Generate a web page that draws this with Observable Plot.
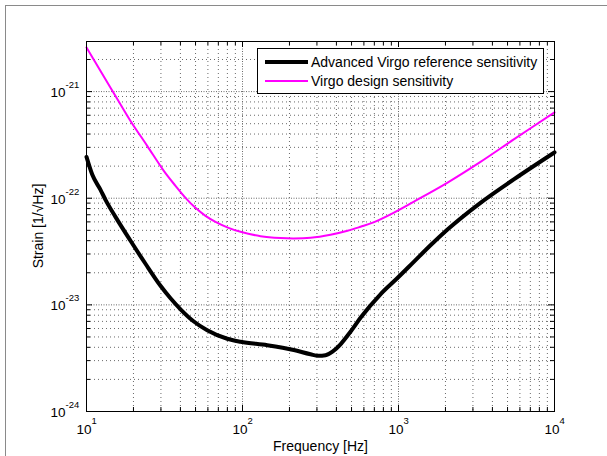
<!DOCTYPE html>
<html>
<head>
<meta charset="utf-8">
<script src="https://cdn.jsdelivr.net/npm/d3@7"></script>
<script src="https://cdn.jsdelivr.net/npm/@observablehq/plot@0.6"></script>
<style>
  html, body { margin: 0; padding: 0; background: #fff; }
  #wrap { position: relative; width: 607px; height: 456px; overflow: hidden; background: #fff; }
  #outer { position: absolute; left: 5px; top: 5px; width: 800px; height: 800px; border: 1px solid #8a8a8a; box-sizing: border-box; }
  #chart { position: absolute; left: 0; top: 0; }
  #ylabel { position: absolute; left: 38px; top: 226px; transform: translate(-50%, -50%) rotate(-90deg);
            white-space: nowrap; font-family: "Liberation Sans", Arial, sans-serif; font-size: 14px; color: #000; line-height: 1; }
  #legend { position: absolute; left: 257px; top: 48px; width: 287px; height: 46px; box-sizing: border-box;
            border: 1px solid #000; background: #fff; font-family: "Liberation Sans", Arial, sans-serif; font-size: 14px; color: #000; }
  .row { position: absolute; left: 7px; height: 18px; display: flex; align-items: center; white-space: nowrap; }
  .sw { width: 43px; margin-right: 3px; }
</style>
</head>
<body>
<div id="wrap">
  <div id="outer"></div>
  <div id="chart"></div>
  <div id="ylabel"></div>
  <div id="legend"></div>
</div>
<script>
// ---- data ----
const seriesNames = ["Advanced Virgo reference sensitivity", "Virgo design sensitivity"];
const seriesColors = ["#000000", "#ff00ff"];

const advFreq   = [10, 10.9, 12.3, 13.24, 15.34, 19.15, 23.88, 29.81, 34.55, 40.06, 48.52, 59.38, 79.8, 97.1, 144, 213.3, 272.9, 307.1, 340.5, 377.6, 424.9, 492.4, 570.8, 766.5, 981, 1253, 1604, 2052, 3354, 5483, 10000];
const advStrain = [2.44e-22, 1.657e-22, 1.199e-22, 9.66e-23, 6.69e-23, 3.99e-23, 2.43e-23, 1.51e-23, 1.153e-23, 9.09e-24, 7.02e-24, 5.78e-24, 4.81e-24, 4.51e-24, 4.18e-24, 3.77e-24, 3.44e-24, 3.33e-24, 3.37e-24, 3.64e-24, 4.27e-24, 5.60e-24, 7.57e-24, 1.257e-23, 1.775e-23, 2.53e-23, 3.62e-23, 5.06e-23, 9.06e-23, 1.503e-22, 2.69e-22];

const virFreq   = [10, 12.3, 15.34, 19.15, 24.49, 31.3, 37.2, 43.11, 49.95, 57.9, 67.12, 81.34, 97.1, 130.5, 175.2, 212.4, 272.9, 366.5, 471.1, 570.8, 691.4, 928.9, 1248, 2052, 3354, 5483, 10000];
const virStrain = [2.59e-21, 1.56e-21, 9.11e-22, 5.31e-22, 3.10e-22, 1.806e-22, 1.307e-22, 1.009e-22, 8.13e-23, 6.84e-23, 6.01e-23, 5.28e-23, 4.84e-23, 4.41e-23, 4.23e-23, 4.19e-23, 4.25e-23, 4.54e-23, 4.95e-23, 5.40e-23, 5.94e-23, 7.30e-23, 9.25e-23, 1.394e-22, 2.19e-22, 3.56e-22, 6.38e-22];

// ---- axis ticks ----
const xMajor = [10, 100, 1000, 10000];
const xMajorExp = ["1", "2", "3", "4"];
const xMinor = [20, 30, 40, 50, 60, 70, 80, 90, 200, 300, 400, 500, 600, 700, 800, 900, 2000, 3000, 4000, 5000, 6000, 7000, 8000, 9000];
const yMajor = [1e-24, 1e-23, 1e-22, 1e-21];
const yMajorExp = ["-24", "-23", "-22", "-21"];
const yMinor = [2e-24, 3e-24, 4e-24, 5e-24, 6e-24, 7e-24, 8e-24, 9e-24,
                2e-23, 3e-23, 4e-23, 5e-23, 6e-23, 7e-23, 8e-23, 9e-23,
                2e-22, 3e-22, 4e-22, 5e-22, 6e-22, 7e-22, 8e-22, 9e-22,
                2e-21];
const xLabel = "Frequency [Hz]";
const yLabel = "Strain [1/\u221AHz]";

const adv = advFreq.map((f, i) => ({f, s: advStrain[i]}));
const vir = virFreq.map((f, i) => ({f, s: virStrain[i]}));

const W = 607, H = 456, mL = 86, mR = 53, mT = 41, mB = 45;
const PH = H - mT - mB, PW = W - mL - mR;
const font = "Liberation Sans, Arial, sans-serif";
const gridColor = "#6a6a6a";

const chart = Plot.plot({
  width: W, height: H,
  marginLeft: mL, marginRight: mR, marginTop: mT, marginBottom: mB,
  style: {fontFamily: font, background: "transparent", overflow: "visible"},
  x: {type: "log", domain: [10, 10000], axis: null},
  y: {type: "log", domain: [1e-24, 2.95e-21], axis: null},
  marks: [
    // grid
    Plot.ruleX(xMinor, {x: d => d, stroke: gridColor, strokeDasharray: "1,3", strokeWidth: 1}),
    Plot.ruleY(yMinor, {y: d => d, stroke: gridColor, strokeDasharray: "1,3", strokeWidth: 1}),
    Plot.ruleX(xMajor, {x: d => d, stroke: gridColor, strokeDasharray: "1,1.5", strokeWidth: 1}),
    Plot.ruleY(yMajor, {y: d => d, stroke: gridColor, strokeDasharray: "1,1.5", strokeWidth: 1}),
    // ticks (inward, all four sides)
    Plot.tickX(xMajor, {x: d => d, insetTop: PH - 6, stroke: "#000"}),
    Plot.tickX(xMajor, {x: d => d, insetBottom: PH - 6, stroke: "#000"}),
    Plot.tickX(xMinor, {x: d => d, insetTop: PH - 4, stroke: "#000"}),
    Plot.tickX(xMinor, {x: d => d, insetBottom: PH - 4, stroke: "#000"}),
    Plot.tickY(yMajor, {y: d => d, insetRight: PW - 6, stroke: "#000"}),
    Plot.tickY(yMajor, {y: d => d, insetLeft: PW - 6, stroke: "#000"}),
    Plot.tickY(yMinor, {y: d => d, insetRight: PW - 4, stroke: "#000"}),
    Plot.tickY(yMinor, {y: d => d, insetLeft: PW - 4, stroke: "#000"}),
    // curves
    Plot.line(vir, {x: "f", y: "s", stroke: seriesColors[1], strokeWidth: 2, curve: "catmull-rom"}),
    Plot.line(adv, {x: "f", y: "s", stroke: seriesColors[0], strokeWidth: 4, curve: "monotone-x"}),
    Plot.frame({stroke: "#000", strokeWidth: 1}),
    // x tick labels
    Plot.text(xMajor, {x: d => d, frameAnchor: "bottom", text: () => "10", textAnchor: "end", lineAnchor: "bottom", dx: 5, dy: 22, fontSize: 13.5, fill: "#000"}),
    Plot.text(xMajor, {x: d => d, frameAnchor: "bottom", text: (d, i) => xMajorExp[i], textAnchor: "start", lineAnchor: "bottom", dx: 5, dy: 12.5, fontSize: 9.5, fill: "#000"}),
    // y tick labels
    Plot.text(yMajor, {y: d => d, frameAnchor: "left", text: () => "10", textAnchor: "end", lineAnchor: "bottom", dx: -21, dy: 5.5, fontSize: 13.5, fill: "#000"}),
    Plot.text(yMajor, {y: d => d, frameAnchor: "left", text: (d, i) => yMajorExp[i], textAnchor: "start", lineAnchor: "bottom", dx: -21, dy: -3.5, fontSize: 9.5, fill: "#000"}),
    // x axis title
    Plot.text([xLabel], {frameAnchor: "bottom", text: d => d, lineAnchor: "bottom", dy: 39, fontSize: 14, fill: "#000"})
  ]
});
document.getElementById("chart").appendChild(chart);
document.getElementById("ylabel").textContent = yLabel;

// legend
const leg = document.getElementById("legend");
seriesNames.forEach((name, i) => {
  const row = document.createElement("div");
  row.className = "row";
  row.style.top = (i === 0 ? 4 : 23) + "px";
  const sw = document.createElement("div");
  sw.className = "sw";
  sw.style.height = (i === 0 ? 4 : 2) + "px";
  sw.style.background = seriesColors[i];
  const t = document.createElement("span");
  t.textContent = name;
  row.appendChild(sw); row.appendChild(t);
  leg.appendChild(row);
});
</script>
</body>
</html>
